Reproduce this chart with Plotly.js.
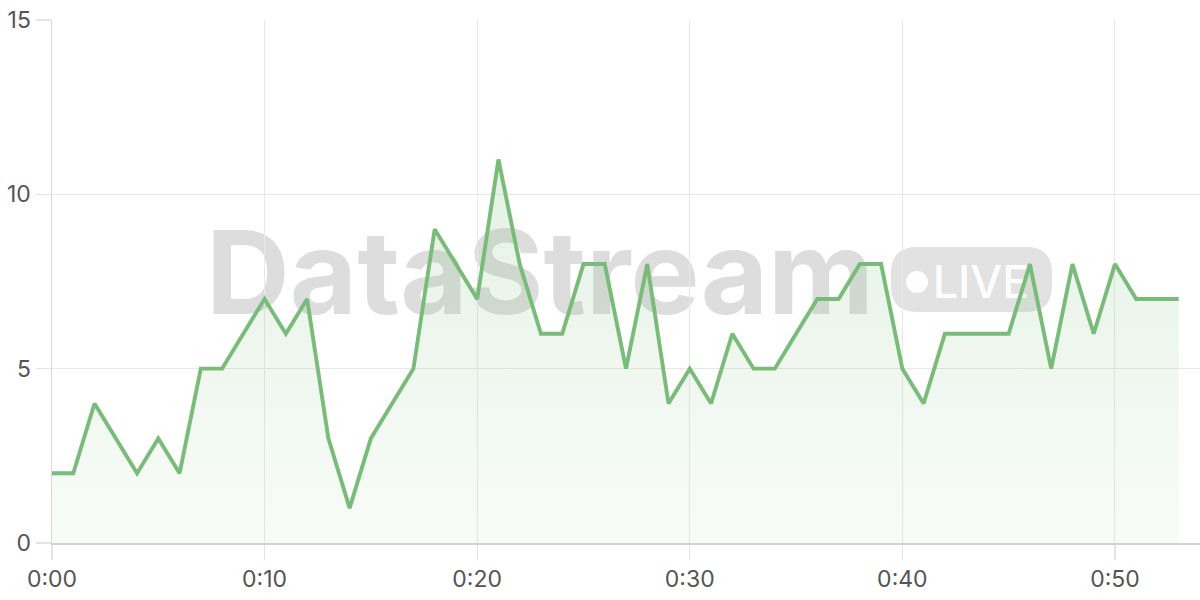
<!DOCTYPE html>
<html>
<head>
<meta charset="utf-8">
<script src="https://cdn.plot.ly/plotly-3.0.1.min.js"></script>
<style>
html,body{margin:0;padding:0;background:#fff;}
#chart{width:1200px;height:600px;}
</style>
</head>
<body>
<div id="chart"></div>
<script>
const minutes = [0,1,2,3,4,5,6,7,8,9,10,11,12,13,14,15,16,17,18,19,20,21,22,23,24,25,26,27,28,29,30,31,32,33,34,35,36,37,38,39,40,41,42,43,44,45,46,47,48,49,50,51,52,53];
const values = [2,2,4,3,2,3,2,5,5,6,7,6,7,3,1,3,4,5,9,8,7,11,8,6,6,8,8,5,8,4,5,4,6,5,5,6,7,7,8,8,5,4,6,6,6,6,8,5,8,6,8,7,7,7];
const xTickVals = [0,10,20,30,40,50];
const xTickText = ["0:00","0:10","0:20","0:30","0:40","0:50"];
const yTickVals = [0,5,10,15];
const watermarkText = "DataStream";
const badgeText = "LIVE";

const green = "rgb(121,188,121)";

const trace = {
  x: minutes,
  y: values,
  type: "scatter",
  mode: "lines",
  line: {color: green, width: 3.9},
  fill: "tozeroy",
  fillgradient: {
    type: "vertical",
    start: 0,
    stop: 15,
    colorscale: [[0, "rgba(121,188,121,0.05)"], [1, "rgba(121,188,121,0.25)"]]
  },
  hoverinfo: "skip"
};

const L = 52, T = 20, W = 1148, H = 523;
const px = v => (v - L) / W;
const py = v => (543 - v) / H;

function roundRect(w, h, r) {
  const x0 = -w/2, x1 = w/2, y0 = -h/2, y1 = h/2;
  return `M ${x0+r} ${y0} L ${x1-r} ${y0} Q ${x1} ${y0} ${x1} ${y0+r} L ${x1} ${y1-r} Q ${x1} ${y1} ${x1-r} ${y1} L ${x0+r} ${y1} Q ${x0} ${y1} ${x0} ${y1-r} L ${x0} ${y0+r} Q ${x0} ${y0} ${x0+r} ${y0} Z`;
}

const shapes = [
  {
    type: "rect", layer: "between", xref: "paper", yref: "paper",
    x0: px(200), x1: px(880), y0: py(328), y1: py(208),
    line: {width: 0}, fillcolor: "rgba(0,0,0,0)",
    label: {text: "<b>" + watermarkText + "</b>", textposition: "middle center",
      font: {family: "Inter, 'Open Sans', sans-serif", size: 116, color: "rgba(180,180,180,0.45)"}}
  },
  {
    type: "path", layer: "between", xref: "paper", yref: "paper",
    xsizemode: "pixel", ysizemode: "pixel",
    xanchor: px(971.5), yanchor: py(279.5),
    path: roundRect(161, 65, 26),
    line: {width: 0}, fillcolor: "rgba(185,185,185,0.42)"
  },
  {
    type: "circle", layer: "between", xref: "paper", yref: "paper",
    xsizemode: "pixel", ysizemode: "pixel",
    xanchor: px(917), yanchor: py(282),
    x0: -11, x1: 11, y0: -11, y1: 11,
    line: {width: 0}, fillcolor: "rgba(255,255,255,0.95)"
  },
  {
    type: "rect", layer: "between", xref: "paper", yref: "paper",
    x0: px(932), x1: px(1030), y0: py(305), y1: py(255),
    line: {width: 0}, fillcolor: "rgba(0,0,0,0)",
    label: {text: badgeText, textposition: "middle center",
      font: {family: "Inter, 'Open Sans', sans-serif", size: 45, color: "rgba(255,255,255,0.95)", weight: 500}}
  }
];

const layout = {
  width: 1200, height: 600,
  margin: {l: L, r: 0, t: T, b: 57},
  paper_bgcolor: "#ffffff",
  plot_bgcolor: "#ffffff",
  showlegend: false,
  font: {family: "Inter, 'Liberation Sans', sans-serif", size: 23, color: "#555"},
  xaxis: {
    range: [0, 54],
    tickvals: xTickVals, ticktext: xTickText,
    showgrid: true, gridcolor: "#e8e8e8", gridwidth: 1,
    ticks: "outside", ticklen: 15, tickcolor: "#e3e3e3", tickwidth: 1.2,
    showline: true, linecolor: "#d2d2d2", linewidth: 1.5,
    zeroline: false,
    tickfont: {size: 23, color: "#555"}
  },
  yaxis: {
    range: [0, 15],
    tickvals: yTickVals,
    showgrid: true, gridcolor: "#e8e8e8", gridwidth: 1,
    ticks: "outside", ticklen: 15, tickcolor: "#e3e3e3", tickwidth: 1.2,
    showline: true, linecolor: "#d8d8d8", linewidth: 1.5,
    zeroline: false,
    tickfont: {size: 23, color: "#555"}
  },
  shapes: shapes
};

Plotly.newPlot("chart", [trace], layout, {displayModeBar: false, staticPlot: true});
</script>
</body>
</html>
